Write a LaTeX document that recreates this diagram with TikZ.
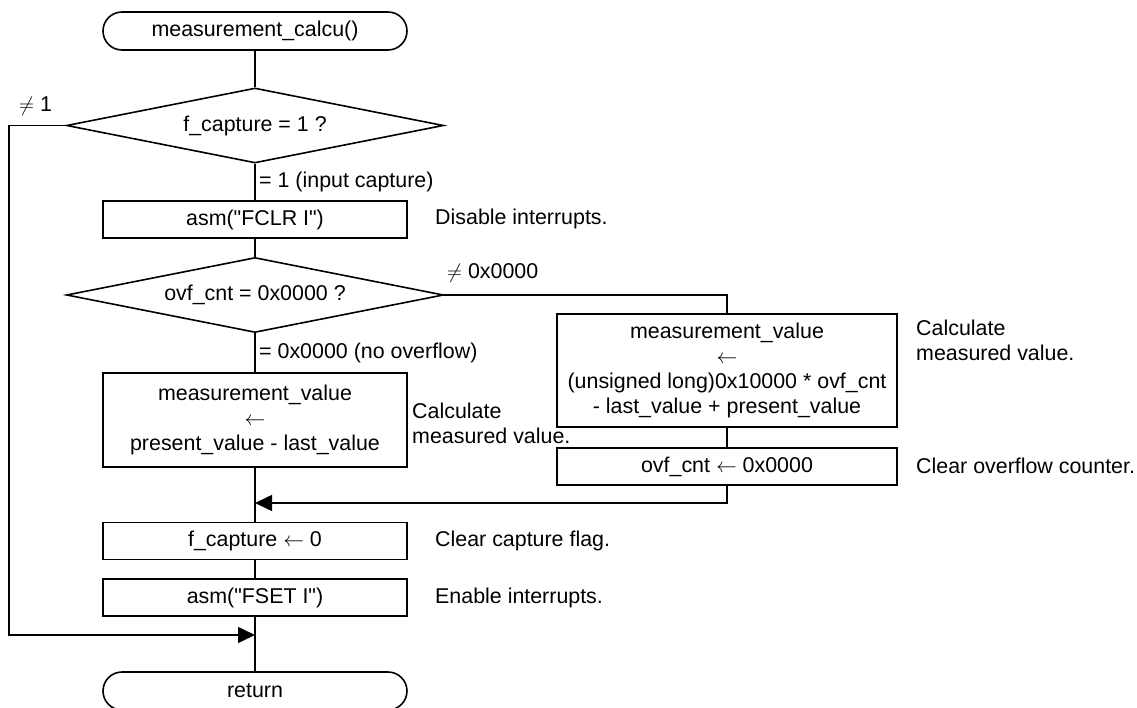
\documentclass[tikz,border=0pt]{standalone}
\usepackage{fontspec}
\setmainfont{Liberation Sans}
\usetikzlibrary{arrows.meta,shapes.geometric,shapes.misc}
\begin{document}
\begin{tikzpicture}[x=1pt,y=-1pt,
  every node/.style={font=\fontsize{21.4}{25.2}\selectfont},
  flow/.style={line width=1.6pt},
  term/.style={draw,line width=1.6pt,rounded rectangle,minimum width=304pt,minimum height=38pt,inner sep=0pt},
  proc/.style={draw,line width=1.6pt,rectangle,minimum width=304pt,minimum height=37pt,inner sep=0pt,align=center},
  dec/.style={draw,line width=1.6pt,diamond,aspect=5.04,minimum width=377pt,minimum height=75pt,inner sep=0pt},
  note/.style={anchor=west,inner sep=0pt,align=left},
  tip/.style={-{Triangle[length=17pt,width=16pt]}}
]
\useasboundingbox (0,0) rectangle (1137,708);

% main column
\node[term] (start) at (255,31) {measurement\_calcu()};
\node[dec] (d1) at (255,125.5) {f\_capture = 1 ?};
\node[proc] (fclr) at (255,219.5) {asm(\textquotedbl FCLR I\textquotedbl)};
\node[dec] (d2) at (255,295) {ovf\_cnt = 0x0000 ?};
\node[proc,minimum height=94pt] (calcA) at (255,420) {measurement\_value\\$\leftarrow$\\present\_value - last\_value};
\node[proc] (clrf) at (255,541) {f\_capture $\leftarrow$ 0};
\node[proc] (fset) at (255,597.5) {asm(\textquotedbl FSET I\textquotedbl)};
\node[term] (ret) at (255,691) {return};

% overflow branch
\node[proc,minimum width=340pt,minimum height=113pt] (calcB) at (727,370.5) {measurement\_value\\$\leftarrow$\\(unsigned long)0x10000 * ovf\_cnt\\- last\_value + present\_value};
\node[proc,minimum width=340pt] (clro) at (727,466.5) {ovf\_cnt $\leftarrow$ 0x0000};

% junctions
\coordinate (merge) at (255,503);
\coordinate (join) at (255,635);
\coordinate (loop) at (9,635);

% connectors
\draw[flow] (start) -- (d1);
\draw[flow] (d1) -- (fclr);
\draw[flow] (fclr) -- (d2);
\draw[flow] (d2) -- (calcA);
\draw[flow] (calcA) -- (clrf);
\draw[flow] (clrf) -- (fset);
\draw[flow] (fset) -- (ret);
\draw[flow] (d2.east) -| (calcB.north);
\draw[flow] (calcB) -- (clro);
\draw[flow,tip] (clro.south) |- (merge);
\draw[flow,tip] (d1.west) -| (loop) -- (join);

% branch labels
\node[note] (l1) at (19,106) {$\neq$ 1};
\node[note] (l2) at (259,182) {= 1 (input capture)};
\node[note] (l3) at (447,273) {$\neq$ 0x0000};
\node[note] (l4) at (259,353) {= 0x0000 (no overflow)};

% comments
\node[note] (c1) at (435,219) {Disable interrupts.};
\node[note] (c2) at (412,423) {Calculate\\measured value.};
\node[note] (c3) at (916,340) {Calculate\\measured value.};
\node[note] (c4) at (916,466) {Clear overflow counter.};
\node[note] (c5) at (435,541) {Clear capture flag.};
\node[note] (c6) at (435,598) {Enable interrupts.};
\end{tikzpicture}
\end{document}
